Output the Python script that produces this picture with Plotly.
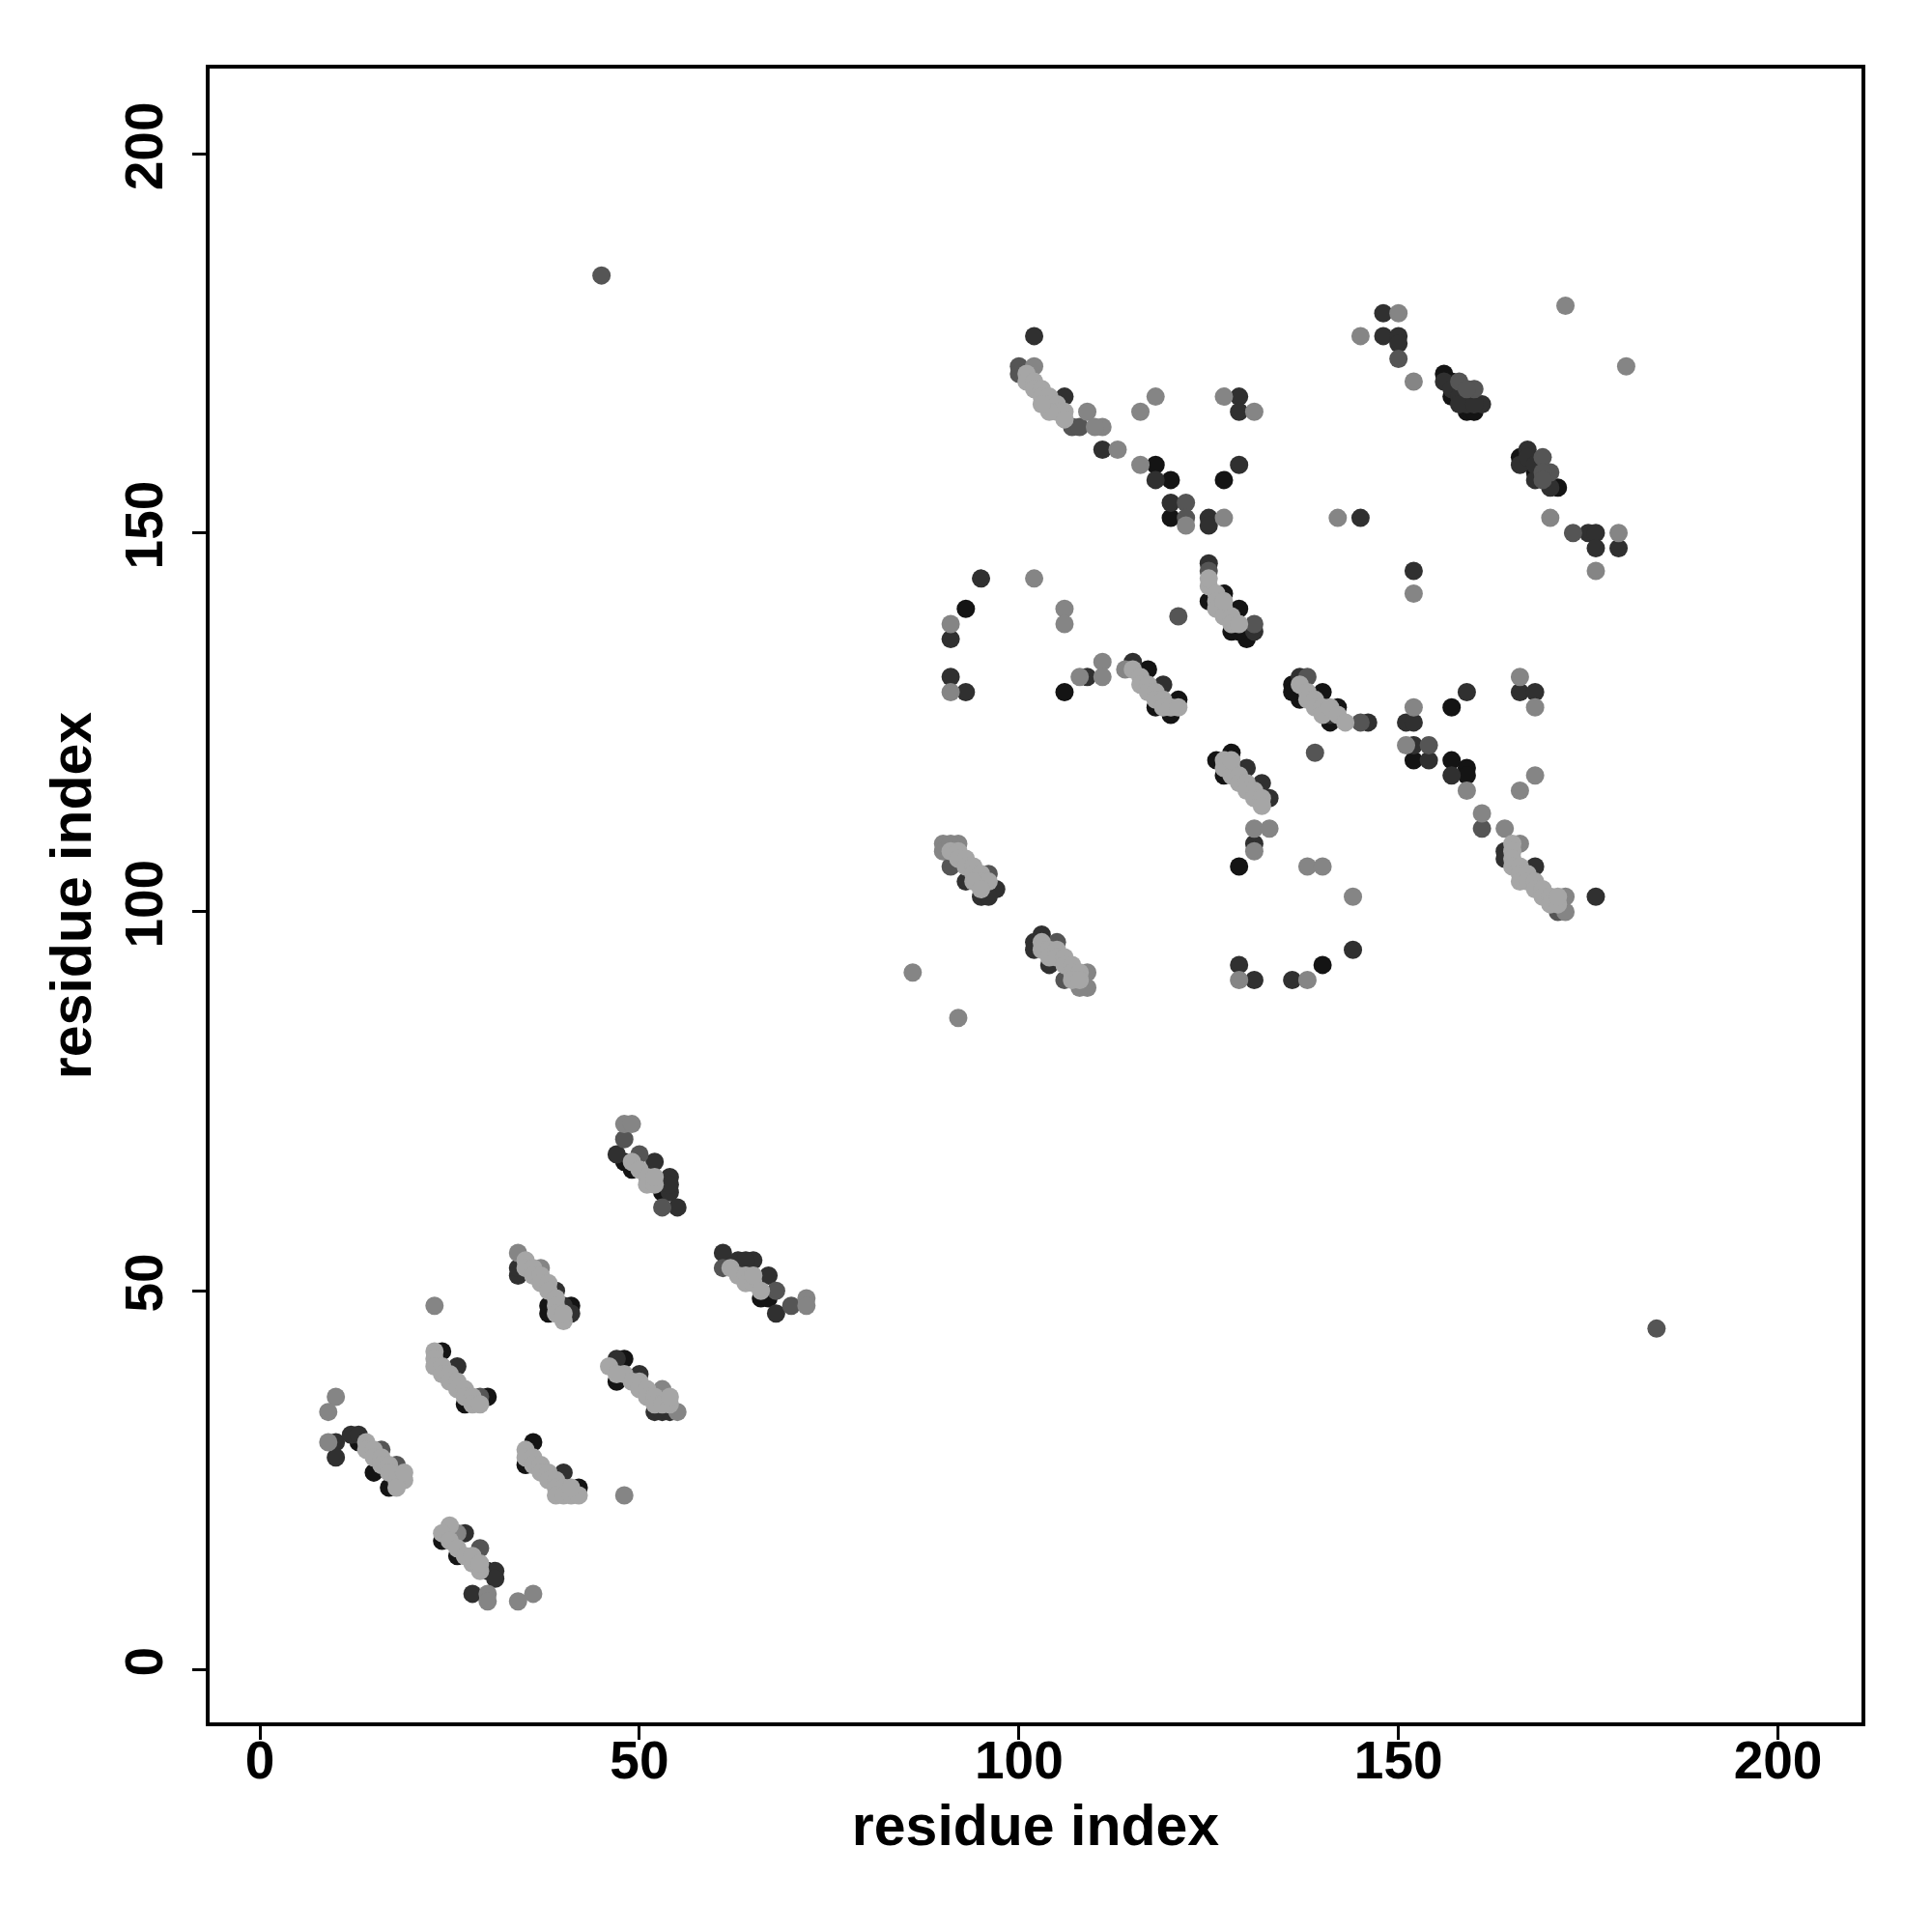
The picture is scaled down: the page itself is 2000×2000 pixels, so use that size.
import plotly.graph_objects as go

# Points grouped by grey level (darkest -> lightest), as (residue i, residue j)
black_pts = [(13,30),(15,26),(17,24),(24,17),(26,15),(30,13),(24,42),(30,36),(27,35),
             (36,30),(35,27),(42,24),(48,41),(47,38),(41,48),(38,47),(38,48),
             (49,66),(48,67),(53,63),(66,49),(67,49),
             (118,159),(120,157),(127,157),(120,152),
             (156,171),(157,168),(159,166),(160,166),(157,170),
             (166,160),(171,156),(168,158),
             (93,140),(106,129),(117,132),(118,127),(121,128),(120,126),
             (125,141),(127,142),(129,140),(128,137),(130,136),(129,137),
             (136,130),(137,128),(140,129),(142,127),(141,125),(136,129),
             (152,120),(157,120),(159,119),(157,127),(159,118),
             (128,121),(126,120),(127,118),(129,106),(140,93)]

dark_pts = [(10,30),(10,28),(12,31),(13,31),(18,26),(27,18),(31,13),(28,10),(31,12),
            (26,40),(40,26),(47,41),(50,39),(52,34),(53,34),(54,34),
            (34,52),(34,53),(39,50),(40,48),(41,47),
            (47,68),(52,67),(54,65),(54,63),(55,61),(54,64),
            (61,55),(63,54),(65,54),(67,52),(68,47),(64,54),
            (102,176),(106,168),(111,161),
            (129,168),(129,166),(118,157),(129,159),(120,154),(125,152),(125,151),
            (148,179),(148,176),(150,176),(150,175),
            (161,167),(156,170),(157,169),(158,168),(159,167),(158,167),(160,167),
            (167,161),(166,159),(168,157),(170,156),(167,160),(168,159),
            (145,152),(152,145),(175,150),(176,150),(176,148),(179,148),
            (95,144),(91,136),(91,131),(93,129),(109,131),(115,133),(119,130),
            (125,146),(131,137),(137,131),(146,125),(141,126),
            (151,125),(152,125),(152,122),(154,120),(159,129),(166,129),(168,129),(157,118),
            (130,119),(132,117),(133,115),(131,109),(144,95),(129,93),(131,91),(136,91),
            (164,108),(164,107),(168,106),(176,102),
            (93,104),(97,103),(95,102),(96,102),
            (102,96),(103,97),(102,95),(104,93)]

dgrey_pts = [(16,29),(18,27),(29,16),(29,36),(48,70),(50,68),(53,61),(61,53),(68,50),(70,48),
             (100,172),(100,171),(107,164),(108,164),(122,154),(122,152),(150,173),
             (158,170),(160,169),(159,169),(169,160),(170,158),(169,158),(169,157),
             (173,150),(125,145),(131,138),(121,139),(138,131),(145,125),(139,121),(154,122),
             (161,111),(171,100),(91,106),(96,105),(105,96),(106,91),(45,184),(184,45)]

grey_pts = [(10,36),(9,34),(9,30),(26,18),(34,9),(36,10),(30,10),(30,9),(23,48),(48,23),
            (53,37),(55,34),(34,55),(37,53),(48,72),(49,72),(72,49),(72,48),
            (102,172),(109,166),(111,164),(110,164),(113,161),(116,166),(118,168),(116,159),
            (127,168),(131,166),(122,151),(127,152),
            (150,179),(145,176),(152,170),(172,180),(180,172),(170,152),
            (142,152),(152,142),(179,150),(176,145),
            (102,144),(91,138),(106,140),(106,138),(91,129),(108,131),(111,133),(111,131),(114,132),
            (152,127),(151,122),(166,131),(168,127),(168,118),(159,116),(166,116),
            (131,111),(133,111),(131,108),(138,106),(140,106),(144,102),(129,91),(138,91),
            (161,113),(164,111),(166,109),(172,102),(172,100),
            (90,109),(92,109),(90,108),(91,109),(109,92),(109,90),(108,90),(86,92),(92,86)]

light_pts = [(14,30),(14,29),(15,29),(15,28),(16,28),(16,27),(17,27),(17,26),(18,25),(19,25),(18,24),(19,26),
             (25,19),(24,18),(25,17),(26,16),(27,15),(28,14),(29,13),(28,15),(29,14),
             (23,42),(23,41),(23,40),(24,40),(24,39),(25,39),(25,38),(26,38),(26,37),(27,37),(27,36),(28,36),(28,35),(29,35),
             (35,29),(35,28),(36,28),(36,27),(37,27),(37,26),(38,26),(38,25),(39,25),(39,24),(40,24),(39,23),(40,23),(41,23),(42,23),(41,24),
             (46,40),(48,39),(49,38),(50,38),(50,37),(51,37),(51,36),(52,36),(52,35),(53,35),(54,35),(54,36),(47,39),
             (35,54),(35,53),(36,53),(36,52),(37,52),(37,51),(38,51),(38,50),(39,49),(39,48),(40,46),(39,47),(40,47),
             (49,67),(50,66),(51,65),(51,64),(52,64),(52,65),
             (62,53),(63,52),(64,52),(64,51),(65,51),(66,50),(65,52),
             (101,171),(101,170),(102,170),(102,169),(103,169),(103,168),(104,168),(104,167),(105,167),(105,166),(106,166),(106,165),(104,166),(103,167),
             (115,132),(116,131),(116,130),(117,130),(117,129),(118,129),(118,128),(119,128),(119,127),(120,127),(121,127),
             (125,143),(125,144),(126,142),(126,141),(126,140),(127,140),(127,139),(128,139),(128,138),(129,138),(127,141),
             (137,130),(138,129),(138,128),(139,128),(139,127),(140,127),(140,126),(141,127),(142,126),(143,125),
             (127,120),(127,119),(128,119),(128,118),(129,118),(129,117),(130,117),(130,116),(131,116),(131,115),(132,115),(132,114),(128,120),
             (165,109),(165,108),(165,107),(165,106),(166,106),(166,105),(166,104),(167,105),(167,104),(168,104),(168,103),(169,103),(169,102),(170,102),(170,101),(171,101),(171,102),
             (91,108),(92,108),(92,107),(93,107),(93,106),(94,106),(94,105),(95,105),(95,104),(96,104),(94,104),(95,103),
             (103,96),(103,95),(104,95),(104,94),(105,95),(105,94),(106,94),(106,93),(107,93),(107,92),(108,92),(107,91),(108,91)]

groups = [
    ("black", black_pts, "#141414"),
    ("dark", dark_pts, "#303030"),
    ("darkgrey", dgrey_pts, "#555555"),
    ("grey", grey_pts, "#858585"),
    ("light", light_pts, "#a6a6a6"),
]

tick_vals = [0, 50, 100, 150, 200]
tick_text = ["0", "50", "100", "150", "200"]

fig = go.Figure()
for name, pts, col in groups:
    fig.add_trace(go.Scatter(
        x=[p[0] for p in pts], y=[p[1] for p in pts],
        mode="markers", name=name, showlegend=False,
        marker=dict(size=19, color=col, line=dict(width=0)),
    ))

font_family = "Liberation Sans, Arial, sans-serif"
fig.update_layout(
    width=2000, height=2000,
    margin=dict(l=209, r=81, t=63, b=225),
    paper_bgcolor="white", plot_bgcolor="white",
    showlegend=False,
)
fig.update_xaxes(
    range=[-6.63, 211.0], tickvals=tick_vals, ticktext=tick_text,
    showgrid=False, zeroline=False,
    showline=True, linecolor="black", linewidth=4, mirror=True,
    ticks="outside", ticklen=14, tickwidth=3, tickcolor="black",
    tickfont=dict(family=font_family, size=55, color="black", weight="bold"),
    ticklabelstandoff=-26,
    title=dict(text="residue index", font=dict(family=font_family, size=59, color="black", weight="bold"), standoff=18),
)
fig.update_yaxes(
    range=[-6.97, 211.3], tickvals=tick_vals, ticktext=tick_text,
    showgrid=False, zeroline=False,
    showline=True, linecolor="black", linewidth=4, mirror=True,
    ticks="outside", ticklen=14, tickwidth=3, tickcolor="black", tickangle=-90,
    tickfont=dict(family=font_family, size=55, color="black", weight="bold"),
    ticklabelstandoff=9,
    title=dict(text="residue index", font=dict(family=font_family, size=59, color="black", weight="bold"), standoff=5),
)

fig.write_html("out.html")
